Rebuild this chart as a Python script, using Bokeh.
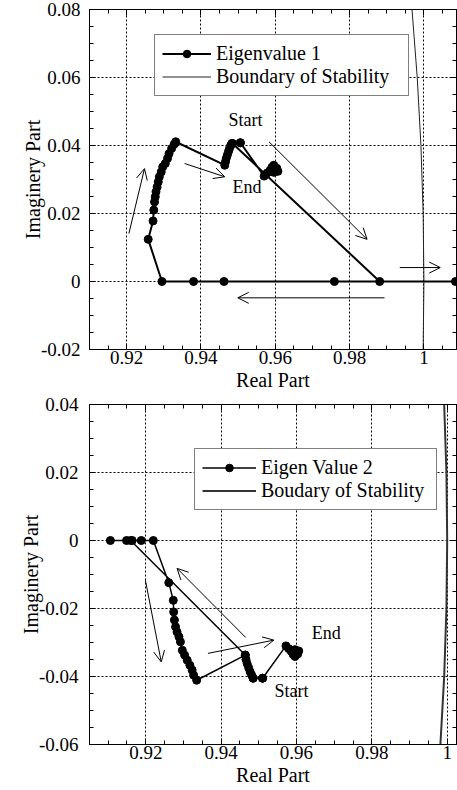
from bokeh.plotting import figure
from bokeh.models import (Range1d, FixedTicker, LinearAxis, Legend, LegendItem,
                          Label, Arrow, OpenHead, CustomJSTickFormatter)
from bokeh.layouts import column
from bokeh.embed import file_html
from bokeh.resources import INLINE
import numpy as np

# ---------------- data ----------------
# Eigenvalue 1 trajectory (real, imaginary)
ev1_re = [0.9506, 0.9485, 0.9881, 1.0085, 0.9759, 0.9462, 0.9380, 0.9295,
          0.9258, 0.9271, 0.9273, 0.9275, 0.9277, 0.9279, 0.9282, 0.9285,
          0.9288, 0.9293, 0.9297, 0.9304, 0.9310, 0.9314, 0.9321, 0.9328,
          0.9332, 0.9464, 0.9466, 0.9468, 0.9471, 0.9474, 0.9477, 0.9480,
          0.9483, 0.9506, 0.9570, 0.9578, 0.9586, 0.9591, 0.9596, 0.9604,
          0.9607, 0.9596]
ev1_im = [0.0408, 0.0406, 0.0, 0.0, 0.0, 0.0, 0.0, 0.0,
          0.0124, 0.0178, 0.0210, 0.0234, 0.0249, 0.0264, 0.0278, 0.0293,
          0.0308, 0.0322, 0.0337, 0.0347, 0.0362, 0.0376, 0.0391, 0.0404,
          0.0411, 0.0342, 0.0352, 0.0362, 0.0372, 0.0382, 0.0392, 0.0400,
          0.0406, 0.0408, 0.0310, 0.0319, 0.0327, 0.0336, 0.0342, 0.0333,
          0.0324, 0.0321]

# Eigenvalue 2 trajectory (real, imaginary)
ev2_re = [0.9510, 0.9485, 0.9481, 0.9477, 0.9473, 0.9469, 0.9466, 0.9464,
          0.9160, 0.9149, 0.9106, 0.9164, 0.9188, 0.9220, 0.9261, 0.9273,
          0.9274, 0.9276, 0.9279, 0.9283, 0.9288, 0.9292, 0.9297, 0.9303,
          0.9310, 0.9317, 0.9323, 0.9327, 0.9335, 0.9464, 0.9485, 0.9510,
          0.9572, 0.9579, 0.9586, 0.9591, 0.9596, 0.9603, 0.9606, 0.9596]
ev2_im = [-0.0405, -0.0405, -0.0396, -0.0386, -0.0374, -0.0362, -0.0350, -0.0337,
          0.0, 0.0, 0.0, 0.0, 0.0, 0.0, -0.0124, -0.0176,
          -0.0210, -0.0234, -0.0254, -0.0269, -0.0283, -0.0298, -0.0323, -0.0337,
          -0.0352, -0.0367, -0.0381, -0.0396, -0.0411, -0.0337, -0.0405, -0.0405,
          -0.0310, -0.0318, -0.0326, -0.0335, -0.0341, -0.0334, -0.0325, -0.0321]

# Boundary of stability (unit circle near z = 1)
bound_im = [-0.06, -0.04, -0.02, 0.0, 0.02, 0.04, 0.06, 0.08]
bound_re = [0.9982, 0.9992, 0.9998, 1.0, 0.9998, 0.9992, 0.9982, 0.9968]

# tick labels
x_ticks = [0.92, 0.94, 0.96, 0.98, 1.0]
x_labels = ["0.92", "0.94", "0.96", "0.98", "1"]
y1_ticks = [-0.02, 0.0, 0.02, 0.04, 0.06, 0.08]
y1_labels = ["-0.02", "0", "0.02", "0.04", "0.06", "0.08"]
y2_ticks = [-0.06, -0.04, -0.02, 0.0, 0.02, 0.04]
y2_labels = ["-0.06", "-0.04", "-0.02", "0", "0.02", "0.04"]

# direction arrows (x_start, y_start, x_end, y_end)
arrows1 = [(0.9583, 0.0411, 0.9847, 0.0124),
           (0.9935, 0.0041, 1.0044, 0.0041),
           (0.9894, -0.0048, 0.9499, -0.0048),
           (0.9206, 0.0141, 0.9248, 0.0332),
           (0.9356, 0.0347, 0.9464, 0.0308)]
arrows2 = [(0.9199, -0.0117, 0.9241, -0.0357),
           (0.9465, -0.0285, 0.9283, -0.0082),
           (0.9365, -0.0332, 0.9540, -0.0293)]

FONT = "Liberation Serif"


def make_ticker(ticks):
    minor = [round(v, 4) for v in np.arange(-0.10, 1.05, 0.005)]
    return FixedTicker(ticks=ticks, minor_ticks=minor)


def make_fmt(ticks, labels):
    return CustomJSTickFormatter(args=dict(tk=ticks, lb=labels), code="""
        const i = tk.findIndex(t => Math.abs(t - tick) < 1e-9);
        return i >= 0 ? lb[i] : '';
    """)


def style_axis(ax, ticker, fmt=None, show=True):
    ax.ticker = ticker
    if fmt is not None:
        ax.formatter = fmt
    ax.major_tick_in = 6
    ax.major_tick_out = 0
    ax.minor_tick_in = 4
    ax.minor_tick_out = 0
    ax.axis_line_color = "black"
    ax.major_tick_line_color = "black"
    ax.minor_tick_line_color = "black"
    ax.major_label_text_font = FONT
    ax.major_label_text_color = "black"
    ax.axis_label_text_font = FONT
    ax.axis_label_text_font_style = "normal"
    ax.axis_label_text_color = "black"
    if show:
        ax.major_label_text_font_size = "19px"
        ax.axis_label_text_font_size = "20px"
    else:
        ax.major_label_text_font_size = "0px"
        ax.major_label_standoff = 0


def make_plot(xr, yr, left, ystand, y_ticks, y_labels):
    p = figure(x_range=Range1d(*xr), y_range=Range1d(*yr),
               width=457, height=395,
               min_border_left=left, min_border_right=1,
               min_border_top=9, min_border_bottom=46,
               toolbar_location=None, output_backend="svg",
               background_fill_color="white", border_fill_color="white")
    xt = make_ticker(x_ticks)
    yt = make_ticker(y_ticks)
    style_axis(p.xaxis[0], xt, make_fmt(x_ticks, x_labels))
    style_axis(p.yaxis[0], yt, make_fmt(y_ticks, y_labels))
    p.xaxis[0].axis_label = "Real Part"
    p.yaxis[0].axis_label = "Imaginery Part"
    p.xaxis[0].major_label_standoff = 1
    p.yaxis[0].major_label_standoff = ystand
    p.xaxis[0].axis_label_standoff = 2
    p.yaxis[0].axis_label_standoff = -6
    top = LinearAxis(formatter=make_fmt([], []))
    style_axis(top, make_ticker(x_ticks), show=False)
    right = LinearAxis(formatter=make_fmt([], []))
    style_axis(right, make_ticker(y_ticks), show=False)
    p.add_layout(top, "above")
    p.add_layout(right, "right")
    p.xgrid.ticker = xt
    p.ygrid.ticker = yt
    for g in (p.xgrid[0], p.ygrid[0]):
        g.grid_line_color = "black"
        g.grid_line_dash = "2 2"
        g.grid_line_width = 1
    p.outline_line_color = "black"
    p.outline_line_width = 1
    return p


def add_arrows(p, arrows):
    for (xs, ys, xe, ye) in arrows:
        p.add_layout(Arrow(end=OpenHead(size=11, line_width=1, line_color="black"),
                           x_start=xs, y_start=ys, x_end=xe, y_end=ye,
                           line_width=1, line_color="black"))


def add_text(p, x, y, txt):
    p.add_layout(Label(x=x, y=y, text=txt, text_font=FONT, text_font_size="18px",
                       text_align="center", text_baseline="middle",
                       text_color="black"))


def make_legend(items, loc, gw, lw):
    return Legend(items=items, location=loc, orientation="vertical",
                  label_text_font=FONT, label_text_font_size="20px",
                  label_text_line_height=0.95,
                  label_text_color="black",
                  glyph_width=gw, glyph_height=19, label_height=19, label_width=lw,
                  label_standoff=5, padding=7, spacing=0, margin=0,
                  border_line_color="black", border_line_width=1,
                  background_fill_color="white", background_fill_alpha=1)


# ---------------- plot 1 ----------------
p1 = make_plot((0.91, 1.00877), (-0.02, 0.08), 81, 9, y1_ticks, y1_labels)
b1 = p1.line(bound_re, bound_im, line_color="#222222", line_width=1)
l1 = p1.line(ev1_re, ev1_im, line_color="black", line_width=2)
s1 = p1.scatter(ev1_re, ev1_im, size=8, marker="circle",
                fill_color="black", line_color="black")
add_arrows(p1, arrows1)
add_text(p1, 0.9520, 0.0474, "Start")
add_text(p1, 0.9524, 0.0278, "End")
leg1 = make_legend([LegendItem(label="Eigenvalue 1", renderers=[l1, s1]),
                    LegendItem(label="Boundary of Stability", renderers=[b1])],
                   (65, 253), 49, 185)
p1.add_layout(leg1, "center")

# ---------------- plot 2 ----------------
p2 = make_plot((0.90506, 1.00247), (-0.06, 0.04), 89, 11, y2_ticks, y2_labels)
b2 = p2.line(bound_re, bound_im, line_color="#333333", line_width=2)
l2 = p2.line(ev2_re, ev2_im, line_color="black", line_width=1.5)
s2 = p2.scatter(ev2_re, ev2_im, size=8, marker="circle",
                fill_color="black", line_color="black")
add_arrows(p2, arrows2)
add_text(p2, 0.9679, -0.0271, "End")
add_text(p2, 0.9587, -0.0442, "Start")
leg2 = make_legend([LegendItem(label="Eigen Value 2", renderers=[l2, s2]),
                    LegendItem(label="Boudary of Stability", renderers=[b2])],
                   (105, 234), 54, 168)
p2.add_layout(leg2, "center")

layout = column(p1, p2, spacing=0)
open("out.html", "w").write(file_html(layout, INLINE))
